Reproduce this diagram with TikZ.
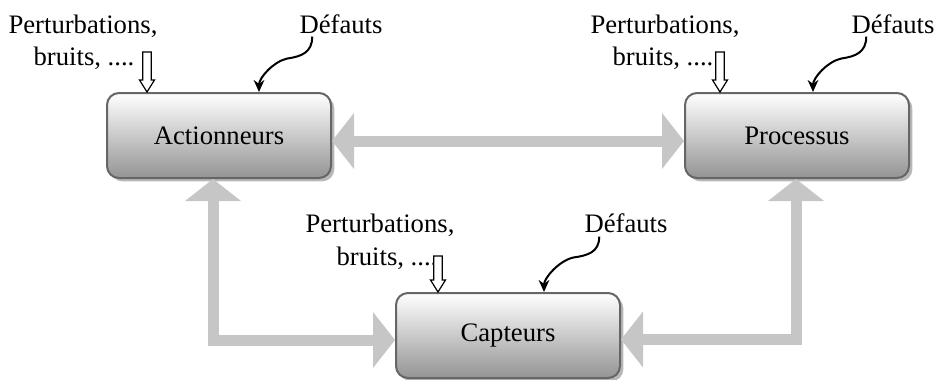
\documentclass[tikz,border=0pt]{standalone}
\usepackage{fontspec}
\setmainfont{Liberation Serif}
\usetikzlibrary{arrows.meta,shadows}
\definecolor{arrowgray}{HTML}{C6C6C6}
\definecolor{boxline}{HTML}{666666}
\begin{document}
\begin{tikzpicture}[x=0.75pt,y=-0.75pt,
  every node/.style={font=\fontsize{20}{24}\selectfont},
  blockbox/.style={rectangle, rounded corners=9pt, draw=boxline, line width=1.5pt,
    top color=white, bottom color=black!42, minimum width=168pt, minimum height=63.75pt,
    drop shadow={shadow xshift=2.5pt, shadow yshift=-2.5pt, fill=black!28, opacity=1}},
  lbl/.style={inner sep=0pt, anchor=base},
  bigtip/.tip={Triangle[width=42pt,length=16.5pt,line width=0pt]},
  bigarrow/.style={draw=arrowgray, line width=8.25pt, bigtip-bigtip},
  hollow/.style={draw=black, line width=0.9pt, fill=white, line join=miter},
  defarrow/.style={draw=black, line width=1.5pt, -{Stealth[length=9pt,width=8pt]}}
]
\useasboundingbox (0,0) rectangle (936,379);

% blocks
\node[blockbox] (act) at (219,135.5) {Actionneurs};
\node[blockbox] (pro) at (797,135.5) {Processus};
\node[blockbox] (cap) at (508,335.5) {Capteurs};

% big gray arrows
\draw[bigarrow] ([shift={(0,5.5)}]act.east) -- ([shift={(0,5.5)}]pro.west);
\draw[bigarrow] ([shift={(-6,0)}]act.south) |- ([shift={(0,4.5)}]cap.west);
\draw[bigarrow] ([shift={(-1,0)}]pro.south) |- ([shift={(0,4)}]cap.east);

% labels Actionneurs
\node[lbl] (pA1) at (83,33) {Perturbations,};
\node[lbl] (pA2) at (84,65) {bruits, ....};
\node[lbl] (dA) at (341,33) {Défauts};
% labels Processus
\node[lbl] (pP1) at (665,33) {Perturbations,};
\node[lbl] (pP2) at (663,65) {bruits, ....};
\node[lbl] (dP) at (893,33) {Défauts};
% labels Capteurs
\node[lbl] (pC1) at (380,232) {Perturbations,};
\node[lbl] (pC2) at (387,265) {bruits, ....};
\node[lbl] (dC) at (626,232) {Défauts};

% hollow arrows
\coordinate (hA) at ([shift={(41,0)}]act.north west);
\coordinate (hP) at ([shift={(36,0)}]pro.north west);
\coordinate (hC) at ([shift={(43,0)}]cap.north west);
\draw[hollow] (hA) -- ++(-7.5,-12) -- ++(3.3,0) -- ++(0,-28) -- ++(8.4,0) -- ++(0,28) -- ++(3.3,0) -- cycle;
\draw[hollow] (hP) -- ++(-7.5,-12) -- ++(3.3,0) -- ++(0,-28) -- ++(8.4,0) -- ++(0,28) -- ++(3.3,0) -- cycle;
\draw[hollow] (hC) -- ++(-7.5,-12) -- ++(3.3,0) -- ++(0,-24) -- ++(8.4,0) -- ++(0,24) -- ++(3.3,0) -- cycle;

% curved fault arrows
\draw[defarrow] ([shift={(13,3)}]dA.south west) .. controls +(0,16) and +(14,-2) .. ++(-25,22)
  .. controls +(-14,3) and +(0,-14) .. ([shift={(153,0)}]act.north west);
\draw[defarrow] ([shift={(15,3)}]dP.south west) .. controls +(0,16) and +(14,-2) .. ++(-25,22)
  .. controls +(-14,3) and +(0,-14) .. ([shift={(129,0)}]pro.north west);
\draw[defarrow] ([shift={(15,4)}]dC.south west) .. controls +(0,16) and +(14,-2) .. ++(-26,21)
  .. controls +(-14,3) and +(0,-14) .. ([shift={(149,0)}]cap.north west);
\end{tikzpicture}
\end{document}
